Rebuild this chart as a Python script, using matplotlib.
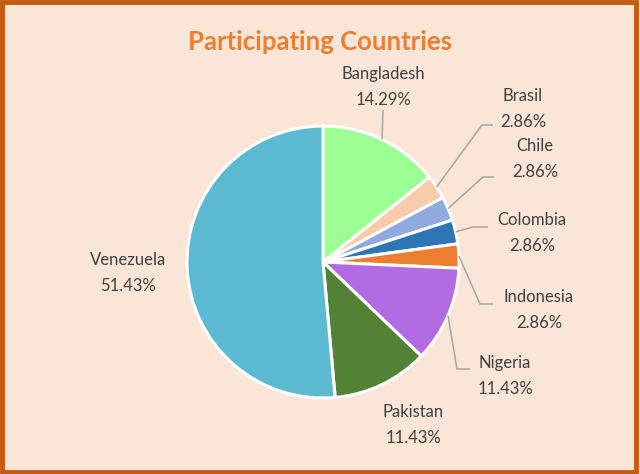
import matplotlib.pyplot as plt
import numpy as np
from matplotlib.patches import Rectangle

# chart data
countries = ['Bangladesh', 'Brasil', 'Chile', 'Colombia', 'Indonesia',
             'Nigeria', 'Pakistan', 'Venezuela']
shares = [14.29, 2.86, 2.86, 2.86, 2.86, 11.43, 11.43, 51.43]
colors = ['#9CFF96', '#F8CBAD', '#8FAADC', '#2E75B6', '#ED7D31',
          '#B36BE3', '#538135', '#5BB9D1']

# label layout in pixel coords (x, y from top); elbow = leader bend points or None
label_pos = {
    'Bangladesh': (383, 87, [(383, 110)]),
    'Brasil': (523, 109, [(482, 125), (493, 125)]),
    'Chile': (535, 159, [(483, 177), (494, 177)]),
    'Colombia': (532, 233, [(473, 227), (488, 227)]),
    'Indonesia': (539, 310, [(480, 304), (493, 304)]),
    'Nigeria': (505, 376, [(457, 369), (470, 369)]),
    'Pakistan': (413, 425, None),
    'Venezuela': (128, 273, None),
}

W, H = 640, 474
CX, CY, R = 323, 262, 136
BG = '#FBE5D6'
TEXT = '#404040'
FONT = ['Lato', 'DejaVu Sans']

fig = plt.figure(figsize=(W / 100, H / 100), dpi=100)
fig.patch.set_facecolor(BG)
ax = fig.add_axes([0, 0, 1, 1])
ax.set_facecolor(BG)

wedges, _ = ax.pie(shares, colors=colors, startangle=90, counterclock=False,
                   center=(CX, H - CY), radius=R,
                   wedgeprops=dict(edgecolor='white', linewidth=2.2))
ax.set_xlim(0, W)
ax.set_ylim(0, H)
ax.set_aspect('auto')
ax.axis('off')

for name, val, w in zip(countries, shares, wedges):
    tx, ty, elbow = label_pos[name]
    ax.text(tx, H - ty, f"{name}\n{val:.2f}%", ha='center', va='center',
            fontsize=12, color=TEXT, family=FONT, linespacing=1.75)
    if elbow is None:
        continue
    # leader starts at the middle of the wedge's outer edge
    mid = np.deg2rad((w.theta1 + w.theta2) / 2)
    px = CX + R * np.cos(mid)
    py = (H - CY) + R * np.sin(mid)
    xs = [px] + [e[0] for e in elbow]
    ys = [py] + [H - e[1] for e in elbow]
    ax.plot(xs, ys, color='#A6A6A6', lw=1.1, solid_capstyle='butt')

fig.text(0.5, 1 - 42 / H, 'Participating Countries', ha='center', va='center',
         fontsize=18.5, fontweight='bold', color='#ED7D31', family=FONT)

fig.patches.append(Rectangle((0.003, 0.005), 0.991, 0.991, transform=fig.transFigure,
                             fill=False, edgecolor='#C55A11', lw=3.5))

fig.savefig('out.png', dpi=100, facecolor=BG)
